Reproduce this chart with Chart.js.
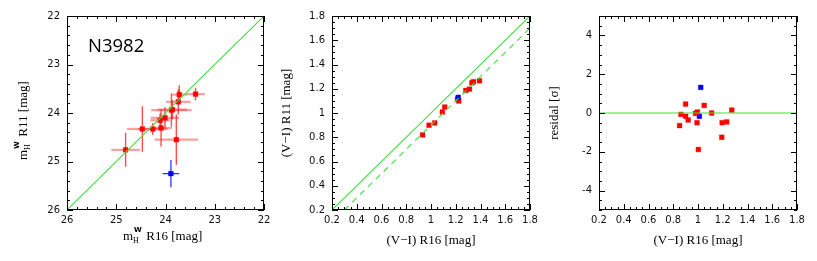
<!DOCTYPE html>
<html lang="en">
<head>
  <meta charset="UTF-8" />
  <title>N3982 comparison</title>
  <style>
    html, body { margin: 0; padding: 0; background: #fff; }
    .wrap { position: relative; width: 817px; height: 261px; }
    .wrap canvas { position: absolute; left: 0; top: 0; pointer-events: none; }
  </style>
</head>
<body>
  <div class="wrap">
    <canvas id="magChart" width="817" height="261"></canvas>
    <canvas id="colorChart" width="817" height="261"></canvas>
    <canvas id="residChart" width="817" height="261"></canvas>
  </div>

  <script src="https://cdn.jsdelivr.net/npm/chart.js"></script>
  <script>
    // panel 1: Wesenheit magnitudes, R16 vs R11
    const magR16 = [24.81, 24.47, 24.26, 24.09, 24.11, 24.01, 23.88, 23.86, 23.78, 23.74, 23.72, 23.39];
    const magR11 = [24.76, 24.33, 24.33, 24.31, 24.15, 24.10, 23.94, 23.93, 24.55, 23.77, 23.62, 23.61];
    const magR16Err = [0.29, 0.31, 0.30, 0.22, 0.20, 0.29, 0.41, 0.30, 0.44, 0.25, 0.15, 0.19];
    const magR11Err = [0.35, 0.47, 0.12, 0.38, 0.14, 0.22, 0.34, 0.20, 0.52, 0.26, 0.19, 0.13];
    const magOutR16 = [23.89];
    const magOutR11 = [25.25];
    const magOutR16Err = [0.17];
    const magOutR11Err = [0.28];
    const magTicks = [22, 23, 24, 25, 26];
    const magLine = [26, 22];

    // panel 2: colours
    const viR16 = [0.932, 0.984, 1.03, 1.092, 1.111, 1.214, 1.224, 1.281, 1.311, 1.33, 1.343, 1.392];
    const viR11 = [0.819, 0.899, 0.918, 1.008, 1.049, 1.115, 1.099, 1.186, 1.197, 1.249, 1.258, 1.266];
    const viOutR16 = [1.22];
    const viOutR11 = [1.129];
    const colorTicks = [0.2, 0.4, 0.6, 0.8, 1.0, 1.2, 1.4, 1.6, 1.8];
    const colorLine = [0.2, 1.8];
    const colorOffset = 0.1;

    // panel 3: residuals
    const resX = [0.851, 0.862, 0.90, 0.90, 0.92, 0.98, 0.995, 0.992, 1.003, 1.05, 1.11, 1.195, 1.192, 1.232, 1.273];
    const resY = [-0.65, -0.07, 0.46, -0.17, -0.36, -0.02, 0.05, -0.50, -1.88, 0.39, 0.0, -0.50, -1.25, -0.46, 0.15];
    const resOutX = [1.022, 1.011];
    const resOutY = [1.32, -0.17];
    const resTicks = [-4, -2, 0, 2, 4];

    const RED = '#ff0000';
    const BLUE = '#0000ff';
    const GREEN = '#3ee03e';
    const TICK_FONT = { family: 'DejaVu Sans', size: 10 };
    const TITLE_FONT = { family: 'Liberation Serif', size: 13 };

    const pts = (xs, ys) => xs.map((x, i) => ({ x: x, y: ys[i] }));
    const fmt = v => String(+(+v).toFixed(1));

    // box + inward major/minor ticks on all four sides
    const frame = {
      id: 'frame',
      afterDatasetsDraw(chart, args, opts) {
        const { ctx, chartArea: a, scales } = chart;
        ctx.save();
        ctx.strokeStyle = '#000';
        ctx.lineWidth = 1;
        ctx.strokeRect(a.left + 0.5, a.top + 0.5, a.right - a.left - 1, a.bottom - a.top - 1);
        ctx.beginPath();
        const mark = (scale, v, len) => {
          const p = Math.round(scale.getPixelForValue(v)) + 0.5;
          if (scale.isHorizontal()) {
            ctx.moveTo(p, a.bottom); ctx.lineTo(p, a.bottom - len);
            ctx.moveTo(p, a.top); ctx.lineTo(p, a.top + len);
          } else {
            ctx.moveTo(a.left, p); ctx.lineTo(a.left + len, p);
            ctx.moveTo(a.right, p); ctx.lineTo(a.right - len, p);
          }
        };
        [['x', opts.xMinor], ['y', opts.yMinor]].forEach(([id, step]) => {
          const s = scales[id];
          const majors = s.ticks.map(t => t.value);
          majors.forEach(v => mark(s, v, 6));
          const n = Math.round((s.max - s.min) / step);
          for (let i = 0; i <= n; i++) {
            const v = s.min + i * step;
            if (!majors.some(m => Math.abs(m - v) < step / 10)) mark(s, v, 3);
          }
        });
        ctx.stroke();
        ctx.restore();
      }
    };

    // error bars from dataset xErr / yErr arrays
    const errorBars = {
      id: 'errorBars',
      beforeDatasetsDraw(chart) {
        const { ctx, scales: { x, y } } = chart;
        ctx.save();
        chart.data.datasets.forEach(ds => {
          if (!ds.xErr) return;
          ds.data.forEach((p, i) => {
            const px = x.getPixelForValue(p.x), py = y.getPixelForValue(p.y);
            ctx.strokeStyle = ds.xErrColor;
            ctx.lineWidth = ds.xErrWidth;
            ctx.beginPath();
            ctx.moveTo(x.getPixelForValue(p.x - ds.xErr[i]), py);
            ctx.lineTo(x.getPixelForValue(p.x + ds.xErr[i]), py);
            ctx.stroke();
            ctx.strokeStyle = ds.yErrColor;
            ctx.lineWidth = ds.yErrWidth;
            ctx.beginPath();
            ctx.moveTo(px, y.getPixelForValue(p.y - ds.yErr[i]));
            ctx.lineTo(px, y.getPixelForValue(p.y + ds.yErr[i]));
            ctx.stroke();
          });
        });
        ctx.restore();
      }
    };

    // m_H^W axis titles
    function drawMag(ctx, x, y, rest) {
      ctx.fillStyle = '#000';
      ctx.textBaseline = 'alphabetic';
      ctx.textAlign = 'left';
      ctx.font = '13px "Liberation Serif"';
      ctx.fillText('m', x, y);
      let cx = x + ctx.measureText('m').width;
      ctx.font = '8px "Liberation Serif"';
      ctx.fillText('H', cx, y + 3);
      ctx.font = 'bold 7px "DejaVu Sans"';
      ctx.fillText('W', cx + 1, y - 8);
      cx += 10;
      ctx.font = '13px "Liberation Serif"';
      ctx.fillText(rest, cx, y);
    }
    const magTitles = {
      id: 'magTitles',
      afterDraw(chart) {
        const ctx = chart.ctx;
        ctx.save();
        drawMag(ctx, 123, 240, ' R16 [mag]');
        ctx.translate(27, 160);
        ctx.rotate(-Math.PI / 2);
        drawMag(ctx, 0, 0, ' R11 [mag]');
        ctx.restore();
        ctx.save();
        ctx.font = '18.5px "Open Sans"';
        ctx.fillStyle = '#000';
        ctx.fillText('N3982', 88, 52);
        ctx.restore();
      }
    };

    function axis(ticks, min, max, width, reverse, title, titlePad) {
      return {
        type: 'linear', min: min, max: max, reverse: reverse,
        grid: { display: false, drawTicks: false },
        border: { display: false },
        afterBuildTicks: s => { s.ticks = ticks.map(v => ({ value: v })); },
        afterFit: s => { if (s.isHorizontal()) s.height = 51; else s.width = width; },
        ticks: { font: TICK_FONT, color: '#111', padding: 4, callback: fmt, maxRotation: 0, autoSkip: false },
        title: title ? { display: true, text: title, font: TITLE_FONT, color: '#000', padding: titlePad } : { display: false }
      };
    }

    function scatterSet(data, color) {
      return {
        data: data, pointStyle: 'rect', pointRadius: 3.4, pointHoverRadius: 3.4,
        pointBackgroundColor: color, pointBorderColor: color === RED ? 'rgba(255,0,0,0.35)' : 'rgba(0,0,255,0.35)',
        pointBorderWidth: 1
      };
    }
    function lineSet(data, dash) {
      return {
        data: data, showLine: true, pointRadius: 0, borderColor: GREEN, borderWidth: 1.1,
        borderDash: dash || [], fill: false
      };
    }

    function make(id, datasets, xAxis, yAxis, pad, minor, extra) {
      xAxis.ticks.padding = 4;
      yAxis.ticks.padding = 7;
      return new Chart(document.getElementById(id), {
        type: 'scatter',
        data: { datasets: datasets },
        options: {
          responsive: false, animation: false, events: [],
          layout: { padding: { left: pad[0], right: pad[1], top: 16, bottom: 0 } },
          scales: { x: xAxis, y: yAxis },
          plugins: { legend: { display: false }, tooltip: { enabled: false }, frame: minor }
        },
        plugins: [errorBars, frame].concat(extra || [])
      });
    }

    Chart.defaults.font.family = 'DejaVu Sans';

    make('magChart', [
      lineSet(pts(magLine, magLine)),
      Object.assign(scatterSet(pts(magOutR16, magOutR11), BLUE), {
        xErr: magOutR16Err, yErr: magOutR11Err,
        xErrColor: 'rgba(0,0,255,0.8)', xErrWidth: 1.3, yErrColor: 'rgba(0,0,255,0.8)', yErrWidth: 1.3
      }),
      Object.assign(scatterSet(pts(magR16, magR11), RED), {
        xErr: magR16Err, yErr: magR11Err,
        xErrColor: 'rgba(255,40,40,0.45)', xErrWidth: 2.2, yErrColor: 'rgba(255,0,0,0.7)', yErrWidth: 1.4
      })
    ],
      axis(magTicks, 22, 26, 67, true, null),
      axis(magTicks, 22, 26, 67, true, null),
      [0, 553], { xMinor: 0.2, yMinor: 0.2 }, [magTitles]);

    make('colorChart', [
      lineSet(pts(colorLine, colorLine)),
      lineSet(pts(colorLine.map(v => v + colorOffset), colorLine), [6, 5]),
      scatterSet(pts(viOutR16, viOutR11), BLUE),
      scatterSet(pts(viR16, viR11), RED)
    ],
      axis(colorTicks, 0.2, 1.8, 60, false, '(V\u2212I) R16 [mag]', { top: 0, bottom: 13 }),
      axis(colorTicks, 0.2, 1.8, 60, false, '(V\u2212I) R11 [mag]', { top: 7, bottom: 0 }),
      [272, 287], { xMinor: 0.05, yMinor: 0.05 });

    make('residChart', [
      lineSet(pts(colorLine, colorLine.map(() => 0))),
      scatterSet(pts(resX, resY), RED),
      scatterSet(pts(resOutX, resOutY), BLUE)
    ],
      axis(colorTicks, 0.2, 1.8, 61, false, '(V\u2212I) R16 [mag]', { top: 0, bottom: 13 }),
      axis(resTicks, -5, 5, 61, false, 'residal [\u03c3]', { top: 9, bottom: 0 }),
      [538, 20], { xMinor: 0.05, yMinor: 0.5 });
  </script>
</body>
</html>
